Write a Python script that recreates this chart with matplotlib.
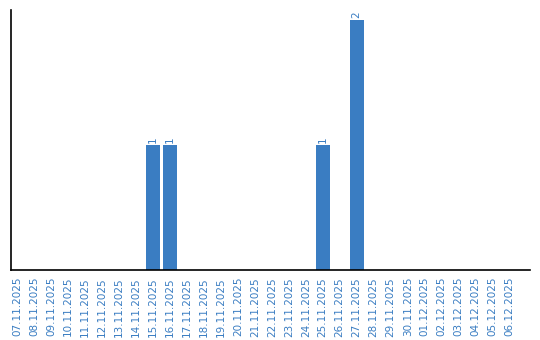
import matplotlib
matplotlib.use("Agg")
import matplotlib.pyplot as plt
import numpy as np

DATES = [
    "07.11.2025", "08.11.2025", "09.11.2025", "10.11.2025", "11.11.2025",
    "12.11.2025", "13.11.2025", "14.11.2025", "15.11.2025", "16.11.2025",
    "17.11.2025", "18.11.2025", "19.11.2025", "20.11.2025", "21.11.2025",
    "22.11.2025", "23.11.2025", "24.11.2025", "25.11.2025", "26.11.2025",
    "27.11.2025", "28.11.2025", "29.11.2025", "30.11.2025", "01.12.2025",
    "02.12.2025", "03.12.2025", "04.12.2025", "05.12.2025", "06.12.2025",
]
COUNTS = [0, 0, 0, 0, 0, 0, 0, 0, 1, 1,
          0, 0, 0, 0, 0, 0, 0, 0, 1, 0,
          2, 0, 0, 0, 0, 0, 0, 0, 0, 0]

BLUE = "#3a7dc2"

fig = plt.figure(figsize=(5.4, 3.4), dpi=100)
ax = fig.add_axes([11 / 540, 70 / 340, 519 / 540, 260 / 340])

x = np.arange(len(DATES))
ax.bar(x, COUNTS, width=0.82, color=BLUE)
for xi, v in zip(x, COUNTS):
    if v > 0:
        ax.text(xi, v + 0.02, str(v), rotation=90, ha="center", va="bottom",
                fontsize=7.5, color=BLUE)

ax.set_xlim(-0.35, 30.2)
ax.set_ylim(0, 2.08)
ax.set_xticks(x)
ax.set_xticklabels(DATES, rotation=90, fontsize=7.5, color=BLUE)
ax.tick_params(axis="x", length=0, pad=5)
ax.set_yticks([])
for side in ("top", "right"):
    ax.spines[side].set_visible(False)
ax.spines["left"].set_linewidth(1.2)
ax.spines["bottom"].set_linewidth(1.2)

fig.savefig("out.png", dpi=100)
